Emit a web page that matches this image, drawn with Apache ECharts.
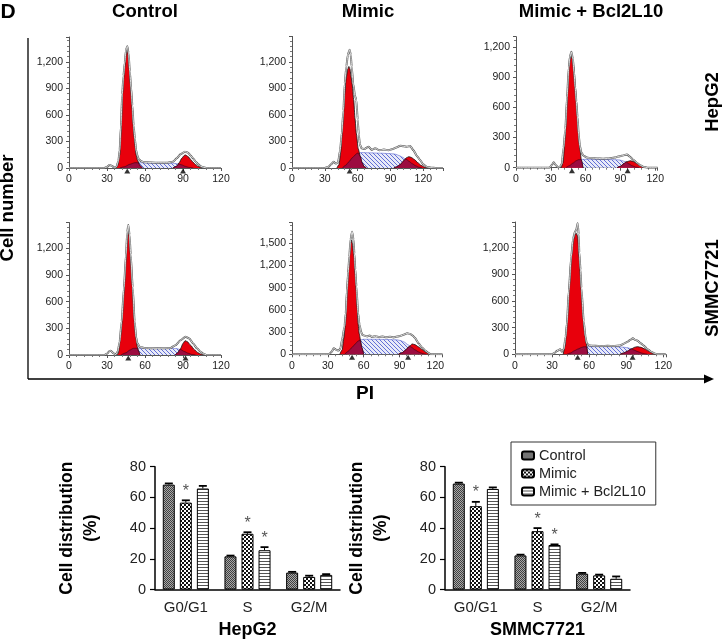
<!DOCTYPE html>
<html>
<head>
<meta charset="utf-8">
<script src="https://cdn.jsdelivr.net/npm/echarts@6/dist/echarts.min.js"></script>
<style>
html,body{margin:0;padding:0;background:#fff;}
#main{width:723px;height:641px;}
</style>
</head>
<body>
<div id="main"></div>
<script>
// histogram panels: envelope, G1 peak, G2 peak, S phase, overlaps, peak markers
var p1Env = [[0,0],[28,0],[30,12],[32,35],[34,22],[36,3],[37.5,15],[39,80],[40,200],[41,470],[42,830],[43,1040],[44,1190],[45,1330],[46,1375],[47,1300],[48,1090],[49,910],[50,710],[51,480],[52,330],[53,200],[54,140],[55,100],[57,75],[60,64],[70,60],[78,60],[82,70],[85,110],[88,155],[91.5,185],[94,172],[96,142],[98,108],[100,72],[102,42],[104,20],[106,8],[109,0],[120,0]];
var p1G1 = [[37,0],[38.5,30],[40,150],[41,430],[42,790],[43,1000],[44,1150],[45,1290],[46,1345],[47,1270],[48,1050],[49,870],[50,670],[51,440],[52,290],[53,150],[54,90],[56,25],[58,0]];
var p1G2 = [[82,0],[85,20],[87,60],[89,110],[91,142],[92,147],[94,130],[96,97],[98,65],[100,38],[102,18],[105,0]];
var p1S = [[40,0],[44,15],[48,42],[52,60],[56,60],[65,57],[75,56],[82,54],[86,47],[89,35],[92,18],[95,6],[98,0]];
var p1OvL = [[40,0],[44,15],[48,42],[52,60],[54,60],[55,50],[56,25],[58,0]];
var p1OvR = [[82,0],[85,20],[86,38],[87,44],[89,35],[92,18],[95,6],[98,0]];
var p1Marks = [46, 90];

var p2Env = [[0,0],[30,0],[33,10],[36,45],[38,72],[40,50],[42,60],[44,200],[45.5,400],[47,650],[48.2,960],[49.7,1150],[51,1280],[52.7,1340],[53.7,1280],[54.5,1150],[56,950],[57.5,820],[58.8,770],[60,550],[61,380],[62,270],[63.5,225],[66,215],[70,240],[73,205],[76,225],[80,200],[84,210],[88,200],[92,215],[96,235],[99,253],[102,245],[105,240],[108,250],[111,200],[114,140],[117,90],[120,40],[123.5,12],[127,4],[132,0],[138,0]];
var p2G1 = [[41,0],[43,40],[44.5,180],[45.7,392],[47,620],[48.2,850],[49.5,1020],[51,1120],[52,1150],[53,1120],[54,1030],[54.9,958],[56.4,770],[57.6,560],[58.8,392],[60.5,220],[62.5,128],[64,60],[66,15],[68,0]];
var p2G2 = [[93,0],[96,15],[99,40],[102,80],[104.5,115],[106.7,128],[109,120],[112,95],[115,60],[118,30],[121,10],[124,0]];
var p2S = [[46,0],[49,30],[52,70],[55,115],[58,150],[61,170],[64,175],[70,172],[80,168],[90,163],[95,155],[98,140],[101,122],[104,100],[107,75],[110,48],[113,25],[116,8],[119,0]];
var p2OvL = [[46,0],[49,30],[52,70],[55,115],[58,150],[59.5,168],[60.5,168],[62.5,128],[64,60],[66,15],[68,0]];
var p2OvR = [[93,0],[96,15],[99,40],[102,80],[103.5,100],[105,95],[107,75],[110,48],[113,25],[116,8],[119,0]];
var p2Marks = [52.7];

var p3Env = [[0,0],[29,0],[31,30],[32.5,53],[34,30],[36,5],[38,10],[39.5,40],[41,200],[42.5,380],[44,700],[45.5,1000],[46.5,1100],[47.7,1150],[49,1080],[50,950],[51,800],[52,660],[53,500],[54,330],[55,220],[56.3,150],[58.3,119],[61,100],[65,95],[70,92],[75,90],[80,92],[85,100],[88,110],[91,118],[95.6,132],[98,110],[101,80],[104,50],[107,25],[110,8],[113,0],[122,0]];
var p3G1 = [[39,0],[40.5,50],[42.5,340],[43.9,671],[45.6,1002],[46.5,1080],[47.5,1117],[48.5,1080],[49.7,1002],[50.8,840],[52,671],[53,500],[54,340],[55,200],[56.3,76],[57.7,0]];
var p3G2 = [[87,0],[90,15],[93,40],[95,58],[98.5,69],[101,62],[104,45],[107,22],[110,0]];
var p3S = [[43,0],[46,20],[49,45],[52,70],[54,80],[58,83],[65,83],[75,82],[85,80],[88,78],[91,72],[94,60],[97,40],[100,20],[103,6],[106,0]];
var p3OvL = [[43,0],[46,20],[49,45],[52,70],[54,80],[55.5,80],[56.3,76],[57.7,0]];
var p3OvR = [[87,0],[90,15],[93,40],[94,50],[95,56],[97,40],[100,20],[103,6],[106,0]];
var p3Marks = [48.2, 96.2];

var p4Env = [[0,0],[28,0],[30,15],[32,45],[33,49],[35,20],[37,5],[38.5,40],[40,150],[41.6,380],[43.4,760],[45,1130],[46,1380],[46.8,1462],[47.8,1350],[48.7,1130],[50.3,760],[51.8,380],[53,200],[54,130],[56,90],[60,78],[70,75],[80,78],[84,110],[88,165],[92,206],[95,185],[98,130],[101,75],[104,35],[106,15],[108.7,0],[120,0]];
var p4G1 = [[38,0],[39,20],[40.5,200],[41.6,356],[43.4,731],[45,1106],[46,1330],[46.8,1425],[47.6,1330],[48.7,1106],[50.3,731],[51.8,356],[53,190],[53.9,94],[55,40],[56,0]];
var p4G2 = [[83.7,0],[86,25],[88,70],[90,130],[91.6,161],[93.5,150],[96,110],[99,60],[102,25],[104,10],[106,0]];
var p4S = [[41,0],[45,25],[48,55],[50.8,75],[55,76],[65,75],[75,75],[82,74],[85,72],[88,62],[91,40],[94,20],[97,6],[100,0]];
var p4OvL = [[41,0],[45,25],[48,55],[50.8,75],[53,76],[53.9,76],[55,40],[56,0]];
var p4OvR = [[83.7,0],[86,25],[87.3,58],[88,62],[91,40],[94,20],[97,6],[100,0]];
var p4Marks = [46.8, 92];

var p5Env = [[0,0],[31,0],[33,30],[35,81],[37,60],[39,50],[40.5,80],[42,200],[44,380],[45,550],[46,869],[47,1100],[48,1320],[49,1550],[50.3,1658],[51.5,1550],[52.2,1360],[53,1150],[53.9,920],[55.3,560],[56.5,400],[57.8,306],[59,260],[61,250],[63,240],[65,255],[67,235],[70,245],[73,232],[76,240],[79,230],[82,238],[85,228],[88,240],[91,250],[94,268],[96.4,284],[99,275],[101,255],[103,220],[106,149],[109,90],[112,45],[114,20],[116,0],[126,0]];
var p5G1 = [[40,0],[42,60],[43.5,230],[44.7,419],[46,869],[47,1100],[48,1320],[49,1500],[49.7,1545],[50.5,1500],[51.3,1400],[52.2,1320],[53,1100],[53.9,869],[54.6,640],[55.3,419],[56.3,280],[57.3,194],[58.5,90],[60,0]];
var p5G2 = [[89,0],[92,20],[95,55],[98,105],[100.6,140],[103,130],[106,100],[109,65],[112,32],[114,15],[116,0]];
var p5S = [[44,0],[47,40],[50,90],[53,140],[55,175],[57,194],[60,203],[70,203],[80,200],[88,195],[91,185],[94,165],[97,130],[100,95],[103,60],[106,32],[109,12],[112,0]];
var p5OvL = [[44,0],[47,40],[50,90],[53,140],[55,175],[57,194],[57.3,194],[58.5,90],[60,0]];
var p5OvR = [[89,0],[92,20],[95,55],[97,88],[98.7,108],[100,95],[103,60],[106,32],[109,12],[112,0]];
var p5Marks = [50.3, 97.2];

var p6Env = [[0,0],[30,0],[32,15],[34,40],[36.6,56],[38,30],[39.5,60],[41,200],[42,349],[43.6,724],[45.5,1100],[47,1300],[48.5,1380],[49.5,1400],[50.7,1475],[51.5,1350],[52,1150],[53,950],[53.7,750],[55.6,370],[57,200],[58,124],[60,100],[65,95],[70,94],[75,95],[80,94],[85,100],[88,120],[91,140],[93,160],[95.4,180],[97,165],[99,155],[101.6,124],[104,100],[107,60],[110,30],[113,10],[115,0],[122,0]];
var p6G1 = [[39,0],[40.5,100],[42,349],[43.6,724],[45.5,1100],[47,1280],[48.5,1350],[49.6,1363],[50.7,1330],[52,1100],[53.7,724],[55.6,349],[56.5,220],[57.7,124],[58.8,0]];
var p6G2 = [[85,0],[88,15],[91,35],[94,60],[97,80],[99,86],[102,78],[105,60],[108,38],[111,15],[114,0]];
var p6S = [[42,0],[45,15],[48,40],[51,60],[54,78],[55.6,84],[58,86],[70,86],[80,86],[86,82],[89,78],[92,70],[94,62],[96,50],[99,32],[102,16],[105,5],[107,0]];
var p6OvL = [[42,0],[45,15],[48,40],[51,60],[54,78],[55.6,84],[57.7,85],[58.2,60],[58.8,0]];
var p6OvR = [[85,0],[88,15],[91,35],[93,52],[94.3,61],[96,50],[99,32],[102,16],[105,5],[107,0]];
var p6Marks = [50.7, 95.1];

var histXMax = [120, 138, 122, 120, 126, 122];
var histYMax = [1480, 1490, 1300, 1490, 1780, 1490];

// bar charts
var phases = ['G0/G1', 'S', 'G2/M'];
var groups = ['Control', 'Mimic', 'Mimic + Bcl2L10'];
var hepControl = [68.3, 21.6, 11.0];
var hepMimic = [56.6, 36.3, 8.2];
var hepBcl = [65.8, 25.6, 9.5];
var hepControlErr = [0.8, 0.5, 0.5];
var hepMimicErr = [1.5, 1.0, 0.8];
var hepBclErr = [1.7, 2.0, 0.5];
var smmcControl = [69.0, 22.2, 10.3];
var smmcMimic = [54.3, 38.0, 9.2];
var smmcBcl = [65.5, 29.0, 7.0];
var smmcControlErr = [0.6, 0.5, 0.5];
var smmcMimicErr = [2.8, 2.0, 0.5];
var smmcBclErr = [1.0, 0.4, 1.5];
var hepStars = [[0,0,0],[1,1,0],[0,1,0]];
var smmcStars = [[0,0,0],[1,1,0],[0,1,0]];

var FONT = 'Liberation Sans, Arial, sans-serif';

function makeCanvas(w, h) {
    var c = document.createElement('canvas');
    c.width = w; c.height = h;
    return c;
}
function hatchPattern() {
    var c = makeCanvas(4, 4), g = c.getContext('2d');
    g.fillStyle = '#e8eaf8';
    g.fillRect(0, 0, 4, 4);
    g.strokeStyle = '#6370d6';
    g.lineWidth = 1;
    for (var o = -4; o <= 4; o += 4) {
        g.beginPath(); g.moveTo(o, 0); g.lineTo(o + 4, 4); g.stroke();
    }
    return {image: c, repeat: 'repeat'};
}
function controlPattern() {
    var c = makeCanvas(2, 2), g = c.getContext('2d');
    g.fillStyle = '#a8a8a8'; g.fillRect(0, 0, 2, 2);
    g.fillStyle = '#404040'; g.fillRect(0, 0, 1, 1); g.fillRect(1, 1, 1, 1);
    return {image: c, repeat: 'repeat'};
}
function mimicPattern() {
    var c = makeCanvas(4, 4), g = c.getContext('2d');
    g.fillStyle = '#fff'; g.fillRect(0, 0, 4, 4);
    g.fillStyle = '#111'; g.fillRect(0, 0, 2, 2); g.fillRect(2, 2, 2, 2);
    return {image: c, repeat: 'repeat'};
}
function bclPattern() {
    var c = makeCanvas(3, 3), g = c.getContext('2d');
    g.fillStyle = '#fff'; g.fillRect(0, 0, 3, 3);
    g.fillStyle = '#555'; g.fillRect(0, 0, 3, 1);
    return {image: c, repeat: 'repeat'};
}

var hatch = hatchPattern();
var barFills = [controlPattern(), mimicPattern(), bclPattern()];

function fmtCount(v) {
    if (v % 300 !== 0) return '';
    if (v >= 1000) return Math.floor(v / 1000) + ',' + ('00' + (v % 1000)).slice(-3);
    return String(v);
}

var histGrids = [
    {left: 69, top: 37, width: 152, height: 131},
    {left: 292, top: 36.4, width: 151, height: 131.6},
    {left: 516, top: 36.7, width: 141.6, height: 131},
    {left: 69, top: 222.5, width: 152, height: 132.5},
    {left: 292, top: 222.6, width: 150.5, height: 131.7},
    {left: 515, top: 222, width: 150.8, height: 132.3}
];
var panels = [
    [p1Env, p1G1, p1G2, p1S, p1OvL, p1OvR, p1Marks],
    [p2Env, p2G1, p2G2, p2S, p2OvL, p2OvR, p2Marks],
    [p3Env, p3G1, p3G2, p3S, p3OvL, p3OvR, p3Marks],
    [p4Env, p4G1, p4G2, p4S, p4OvL, p4OvR, p4Marks],
    [p5Env, p5G1, p5G2, p5S, p5OvL, p5OvR, p5Marks],
    [p6Env, p6G1, p6G2, p6S, p6OvL, p6OvR, p6Marks]
];

var grids = [], xAxes = [], yAxes = [], series = [];

function areaLine(i, data, fill, stroke, width, z) {
    return {
        type: 'line', xAxisIndex: i, yAxisIndex: i, data: data, symbol: 'none',
        smooth: 0.2, smoothMonotone: 'x', silent: true, z: z,
        lineStyle: {color: stroke, width: width},
        areaStyle: fill ? {color: fill, opacity: 1} : undefined
    };
}

for (var i = 0; i < panels.length; i++) {
    var p = panels[i];
    grids.push(histGrids[i]);
    xAxes.push({
        type: 'value', gridIndex: i, min: 0, max: histXMax[i], interval: 30,
        axisLine: {lineStyle: {color: '#555', width: 1}},
        axisTick: {show: true, length: 3, lineStyle: {color: '#555'}},
        minorTick: {show: true, splitNumber: 5, length: 2, lineStyle: {color: '#777'}},
        axisLabel: {fontSize: 10.5, color: '#222', margin: 6, fontFamily: FONT,
            formatter: function (v) { return v % 30 === 0 ? String(v) : ''; }},
        splitLine: {show: false}
    });
    yAxes.push({
        type: 'value', gridIndex: i, min: 0, max: histYMax[i], interval: 300,
        axisLine: {show: true, lineStyle: {color: '#555', width: 1}},
        axisTick: {show: true, length: 3, lineStyle: {color: '#555'}},
        minorTick: {show: true, splitNumber: 5, length: 2, lineStyle: {color: '#777'}},
        axisLabel: {fontSize: 10.5, color: '#222', margin: 6, fontFamily: FONT, formatter: fmtCount},
        splitLine: {show: false}
    });
    series.push(areaLine(i, p[3], hatch, '#5a66d0', 0.6, 1));
    series.push(areaLine(i, p[1], '#e8000c', '#111', 0.8, 2));
    series.push(areaLine(i, p[2], '#e8000c', '#111', 0.8, 2));
    series.push(areaLine(i, p[4], '#9c0c40', '#3a0012', 0.6, 3));
    series.push(areaLine(i, p[5], '#9c0c40', '#3a0012', 0.6, 3));
    series.push(areaLine(i, p[0], null, '#555', 2.0, 4));
    series.push(areaLine(i, p[0], null, '#ffffff', 0.8, 5));
    series.push({
        type: 'scatter', xAxisIndex: i, yAxisIndex: i, silent: true, z: 6,
        data: p[6].map(function (m) { return [m, 0]; }),
        symbol: 'triangle', symbolSize: [6, 5], symbolOffset: [0, 3],
        itemStyle: {color: '#000'}, clip: false
    });
}

function renderErr(params, api) {
    var ci = api.value(0), v = api.value(1), e = api.value(2), k = api.value(3), st = api.value(4);
    var base = api.coord([ci, v]);
    var top = api.coord([ci, v + e]);
    var x = base[0] + (k - 1) * 17;
    var kids = [
        {type: 'line', shape: {x1: x, y1: base[1], x2: x, y2: top[1]}, style: {stroke: '#000', lineWidth: 1}},
        {type: 'line', shape: {x1: x - 4, y1: top[1], x2: x + 4, y2: top[1]}, style: {stroke: '#000', lineWidth: 1.8}}
    ];
    if (st) {
        kids.push({type: 'text', x: x, y: top[1] - 1, style: {text: '*', fontSize: 16, fontFamily: FONT, fill: '#555',
            align: 'center', verticalAlign: 'bottom', textAlign: 'center', textVerticalAlign: 'bottom'}});
    }
    return {type: 'group', children: kids};
}

function barPanel(gi, left, name, vals, errs, stars) {
    grids.push({left: left, top: 466.7, width: 185, height: 122.8});
    xAxes.push({
        type: 'category', gridIndex: gi, data: phases,
        axisLine: {lineStyle: {color: '#000', width: 1.5}},
        axisTick: {show: false},
        axisLabel: {fontSize: 15, color: '#222', margin: 11, fontFamily: FONT},
        name: name, nameLocation: 'middle', nameGap: 32,
        nameTextStyle: {fontSize: 18, fontWeight: 'bold', color: '#000', fontFamily: FONT}
    });
    yAxes.push({
        type: 'value', gridIndex: gi, min: 0, max: 80, interval: 20,
        axisLine: {show: true, lineStyle: {color: '#000', width: 1.5}},
        axisTick: {show: true, length: 5, lineStyle: {color: '#000', width: 1.2}},
        axisLabel: {fontSize: 14.5, color: '#222', margin: 9, fontFamily: FONT},
        splitLine: {show: false},
        name: 'Cell distribution\n(%)', nameLocation: 'middle', nameGap: 52,
        nameTextStyle: {fontSize: 17.5, fontWeight: 'bold', color: '#000', lineHeight: 24, fontFamily: FONT}
    });
    var errData = [];
    for (var k = 0; k < 3; k++) {
        series.push({
            type: 'bar', name: groups[k], xAxisIndex: gi, yAxisIndex: gi, data: vals[k],
            barWidth: 12, barGap: '42%', silent: true,
            itemStyle: {color: barFills[k], borderColor: '#000', borderWidth: 1}
        });
        for (var c = 0; c < 3; c++) {
            errData.push([c, vals[k][c], errs[k][c], k, stars[k][c]]);
        }
    }
    series.push({
        type: 'custom', xAxisIndex: gi, yAxisIndex: gi, data: errData, renderItem: renderErr,
        silent: true, z: 10, clip: false
    });
}

barPanel(6, 155, 'HepG2', [hepControl, hepMimic, hepBcl], [hepControlErr, hepMimicErr, hepBclErr], hepStars);
barPanel(7, 445, 'SMMC7721', [smmcControl, smmcMimic, smmcBcl], [smmcControlErr, smmcMimicErr, smmcBclErr], smmcStars);

function label(x, y, text, size, rot) {
    return {
        type: 'text', x: x, y: y, rotation: rot || 0, silent: true,
        style: {text: text, font: 'bold ' + size + 'px ' + FONT, fill: '#000',
            align: 'center', verticalAlign: 'middle', textAlign: 'center', textVerticalAlign: 'middle'}
    };
}

var option = {
    animation: false,
    backgroundColor: '#fff',
    grid: grids,
    xAxis: xAxes,
    yAxis: yAxes,
    series: series,
    legend: {
        data: groups, orient: 'vertical', left: 511, top: 442,
        itemWidth: 12, itemHeight: 8, itemGap: 3, padding: [6, 10, 6, 10],
        borderColor: '#333', borderWidth: 1, selectedMode: false,
        textStyle: {fontSize: 14.5, color: '#222', lineHeight: 14.5, fontFamily: FONT}
    },
    graphic: [
        label(8, 12, 'D', 21),
        label(145, 12, 'Control', 18.5),
        label(368, 12, 'Mimic', 18.5),
        label(591, 12, 'Mimic + Bcl2L10', 18.5),
        label(8, 208, 'Cell number', 18.5, Math.PI / 2),
        label(365, 394, 'PI', 19),
        label(713, 102, 'HepG2', 18.5, Math.PI / 2),
        label(713, 288, 'SMMC7721', 18.5, Math.PI / 2),
        {type: 'line', silent: true, shape: {x1: 28, y1: 38, x2: 28, y2: 379}, style: {stroke: '#000', lineWidth: 1.3}},
        {type: 'line', silent: true, shape: {x1: 28, y1: 379, x2: 706, y2: 379}, style: {stroke: '#000', lineWidth: 1.3}},
        {type: 'polygon', silent: true, shape: {points: [[704, 374.5], [714, 379], [704, 383.5]]}, style: {fill: '#000'}}
    ]
};

var myChart = echarts.init(document.getElementById('main'), null, {renderer: 'canvas'});
myChart.setOption(option);
</script>
</body>
</html>
